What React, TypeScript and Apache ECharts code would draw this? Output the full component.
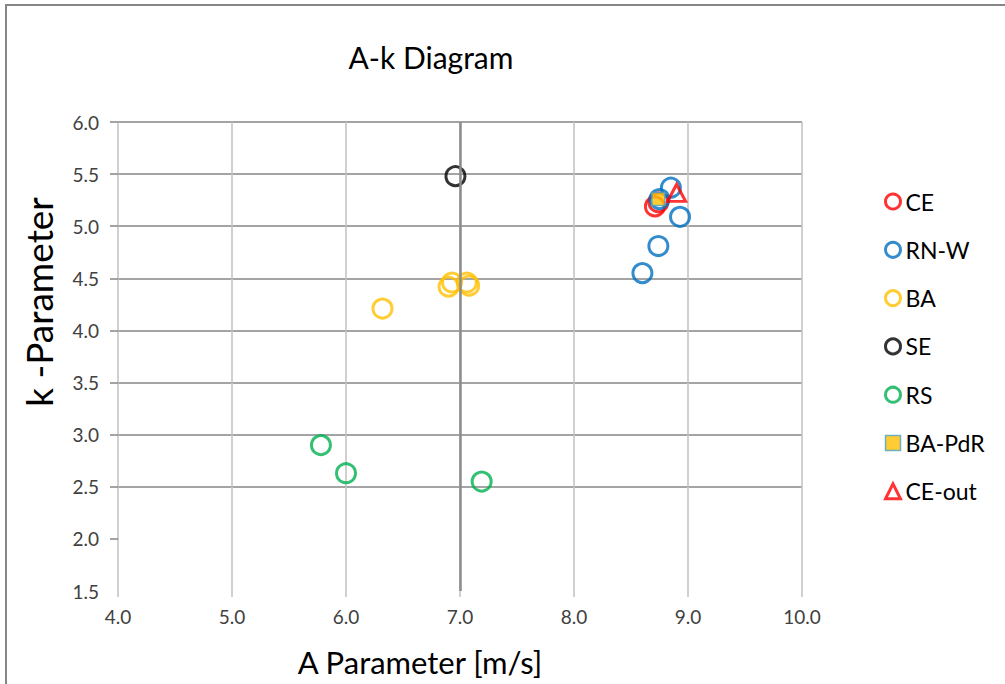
import React, { useEffect, useRef } from "react";
import * as echarts from "echarts";

const xTicks = [4, 5, 6, 7, 8, 9, 10];
const ceData = [[8.71, 5.19], [8.74, 5.23]];
const rnwData = [[8.85, 5.37], [8.93, 5.09], [8.74, 4.81], [8.6, 4.55], [8.75, 5.26]];
const baData = [[6.32, 4.21], [6.9, 4.42], [6.93, 4.46], [7.06, 4.46], [7.08, 4.43]];
const seData = [[6.96, 5.48]];
const rsData = [[5.78, 2.9], [6.0, 2.63], [7.19, 2.55]];
const baPdrData = [[8.74, 5.26]];
const ceOutData = [[8.9, 5.32]];

const FONT = "Lato, 'Open Sans', sans-serif";

export default function App() {
  const ref = useRef<HTMLDivElement>(null);
  useEffect(() => {
    const chart = echarts.init(ref.current!, null, { renderer: "svg" });
    const circle = (name: string, data: number[][], color: string) => ({
      name,
      type: "scatter",
      data,
      symbol: "circle",
      symbolSize: 19,
      itemStyle: { color: "rgba(255,255,255,0)", borderColor: color, borderWidth: 3 },
      z: 3,
    });
    const legendCircle = (name: string, color: string) => ({
      name,
      icon: "circle",
      itemStyle: { color: "#fff", borderColor: color, borderWidth: 3 },
    });
    chart.setOption({
      animation: false,
      backgroundColor: "#fff",
      textStyle: { fontFamily: FONT },
      grid: { left: 118, top: 122, width: 684, height: 469 },
      xAxis: {
        type: "value",
        min: 4,
        max: 10,
        interval: 1,
        axisLine: { show: false },
        axisTick: { show: true, length: 6, lineStyle: { color: "#c0c0c0", width: 1.5 } },
        axisLabel: {
          formatter: (v: number) => v.toFixed(1),
          fontSize: 19,
          color: "#404040",
          margin: 16,
          fontFamily: FONT,
          customValues: xTicks,
        },
        splitLine: { show: true, lineStyle: { color: "#c0c0c0", width: 1.5 } },
      },
      yAxis: {
        type: "value",
        min: 1.5,
        max: 6,
        interval: 0.5,
        axisLine: { show: false },
        axisTick: {
          show: true,
          length: 8,
          lineStyle: { color: "#868686", width: 1.5 },
          customValues: [2, 2.5, 3, 3.5, 4, 4.5, 5, 5.5, 6],
        },
        axisLabel: {
          formatter: (v: number) => v.toFixed(1),
          fontSize: 19,
          color: "#404040",
          margin: 19,
          fontFamily: FONT,
        },
        splitLine: { show: true, showMinLine: false, lineStyle: { color: "#868686", width: 1.5 } },
      },
      legend: {
        orient: "vertical",
        left: 884,
        top: 190,
        padding: 0,
        itemWidth: 15,
        itemHeight: 15,
        itemGap: 25.3,
        textStyle: { fontSize: 23, color: "#000", fontFamily: FONT, lineHeight: 21 },
        data: [
          legendCircle("CE", "#ff0000"),
          legendCircle("RN-W", "#0070c0"),
          legendCircle("BA", "#ffc000"),
          legendCircle("SE", "#000000"),
          legendCircle("RS", "#00b050"),
          { name: "BA-PdR", icon: "rect", itemStyle: { color: "#ffc000", borderColor: "#4ba3c8", borderWidth: 1.5 } },
          { name: "CE-out", icon: "triangle", itemStyle: { color: "#fff", borderColor: "#ff0000", borderWidth: 3 } },
        ],
      },
      graphic: [
        { type: "rect", shape: { x: 6, y: 5, width: 1200, height: 900 }, style: { fill: "none", stroke: "#868686", lineWidth: 2 }, silent: true },
        { type: "text", x: 431, y: 57, style: { text: "A-k Diagram", fontSize: 30, fontFamily: FONT, fill: "#000", align: "center", verticalAlign: "middle" } },
        { type: "text", x: 420, y: 662, style: { text: "A Parameter [m/s]", fontSize: 31, fontFamily: FONT, fill: "#000", align: "center", verticalAlign: "middle" } },
        { type: "text", x: 38, y: 302, rotation: Math.PI / 2, style: { text: "k -Parameter", fontSize: 37, fontFamily: FONT, fill: "#000", align: "center", verticalAlign: "middle" } },
      ],
      series: [
        {
          ...circle("CE", ceData, "#ff0000"),
          markLine: {
            silent: true,
            symbol: "none",
            label: { show: false },
            lineStyle: { color: "#8c8c8c", width: 2.5, type: "solid" },
            data: [{ xAxis: 7 }],
          },
        },
        circle("RN-W", rnwData, "#0070c0"),
        circle("BA", baData, "#ffc000"),
        circle("SE", seData, "#000000"),
        circle("RS", rsData, "#00b050"),
        {
          name: "BA-PdR",
          type: "scatter",
          data: baPdrData,
          symbol: "rect",
          symbolSize: 13,
          itemStyle: { color: "#ffc000", borderColor: "#4ba3c8", borderWidth: 1.5 },
          z: 4,
        },
        {
          name: "CE-out",
          type: "scatter",
          data: ceOutData,
          symbol: "triangle",
          symbolSize: [18, 17],
          itemStyle: { color: "rgba(255,255,255,0)", borderColor: "#ff0000", borderWidth: 3 },
          z: 4,
        },
      ],
    });
    return () => chart.dispose();
  }, []);
  return <div ref={ref} style={{ position: "absolute", left: 0, top: 0, width: 1005, height: 684 }} />;
}
